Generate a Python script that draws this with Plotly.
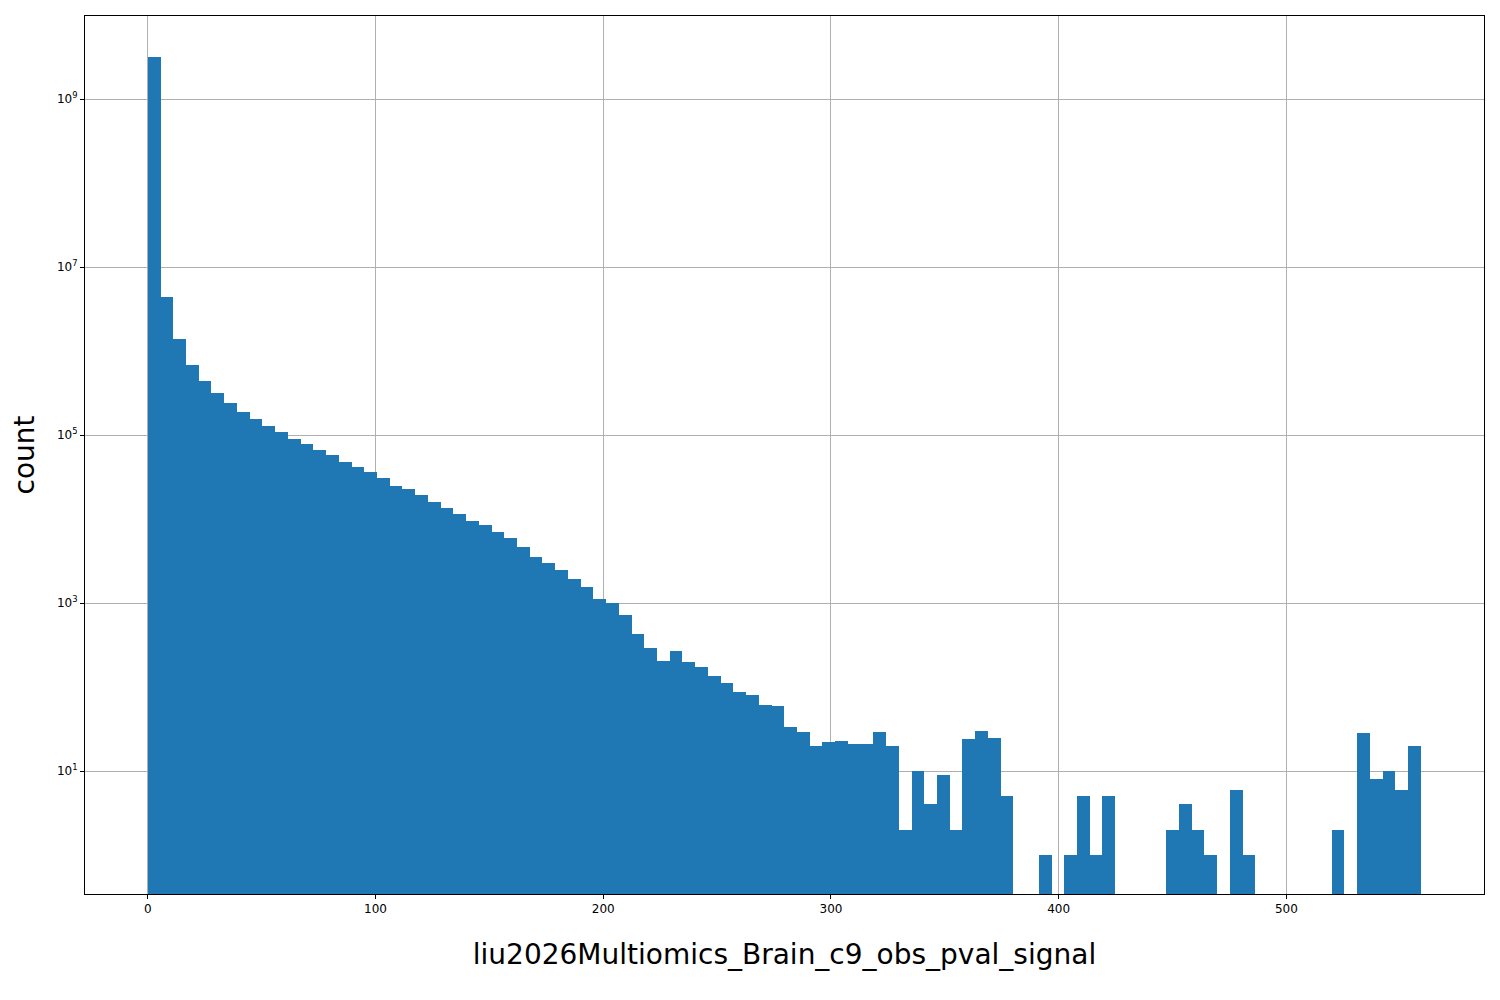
import numpy as np
import plotly.graph_objects as go

# histogram counts, 100 equal bins from 0 to ~559
counts = [3.2e9, 4.4e6, 1.4e6, 6.8e5, 4.4e5, 3.2e5, 2.4e5, 1.87e5, 1.56e5, 1.28e5,
          1.09e5, 8.9e4, 7.8e4, 6.6e4, 5.8e4, 4.8e4, 4.2e4, 3.6e4, 3.1e4, 2.5e4,
          2.3e4, 1.94e4, 1.6e4, 1.35e4, 1.15e4, 9.5e3, 8.5e3, 7.0e3, 5.9e3, 4.7e3,
          3.5e3, 3.0e3, 2.5e3, 1.94e3, 1.55e3, 1.12e3, 1.0e3, 720, 430, 290,
          205, 270, 200, 174, 135, 112, 87, 80, 61, 59,
          33, 29, 20, 22, 23, 21, 21, 29, 20, 2,
          10, 4, 9, 2, 24, 30, 25, 5, 0, 0,
          1, 0, 1, 5, 1, 5, 0, 0, 0, 0,
          2, 4, 2, 1, 0, 6, 1, 0, 0, 0,
          0, 0, 0, 2, 0, 28, 8, 10, 6, 20]
x_min, x_max = 0, 559
x_ticks = [0, 100, 200, 300, 400, 500]
y_ticks = [1e1, 1e3, 1e5, 1e7, 1e9]
y_ticktext = ["10<sup>1</sup>", "10<sup>3</sup>", "10<sup>5</sup>", "10<sup>7</sup>", "10<sup>9</sup>"]

edges = np.linspace(x_min, x_max, len(counts) + 1)
centers = (edges[:-1] + edges[1:]) / 2
width = edges[1] - edges[0]
c = np.array(counts, dtype=float)
mask = c > 0

fig = go.Figure()
fig.add_trace(go.Bar(x=centers[mask], y=c[mask], width=width,
                     marker=dict(color="#1f77b4", line=dict(width=0))))

axis_style = dict(showline=True, linecolor="black", mirror=True, ticks="outside",
                  ticklen=4, tickcolor="black", showgrid=True, gridcolor="#b0b0b0",
                  gridwidth=1, zeroline=False, tickfont=dict(size=12, color="black"))
fig.update_layout(
    width=1500, height=1000,
    margin=dict(l=77, r=24, t=8, b=114),
    plot_bgcolor="white", paper_bgcolor="white",
    bargap=0, showlegend=False,
    font=dict(family="DejaVu Sans", color="black"),
    xaxis=dict(range=[-27.6, 586.8], tickvals=x_ticks,
               title=dict(text="liu2026Multiomics_Brain_c9_obs_pval_signal",
                          font=dict(size=28), standoff=28), **axis_style),
    yaxis=dict(type="log", range=[-0.464, 9.99], tickvals=y_ticks, ticktext=y_ticktext,
               title=dict(text="count", font=dict(size=28), standoff=20), **axis_style),
)
fig.write_html("out.html")
